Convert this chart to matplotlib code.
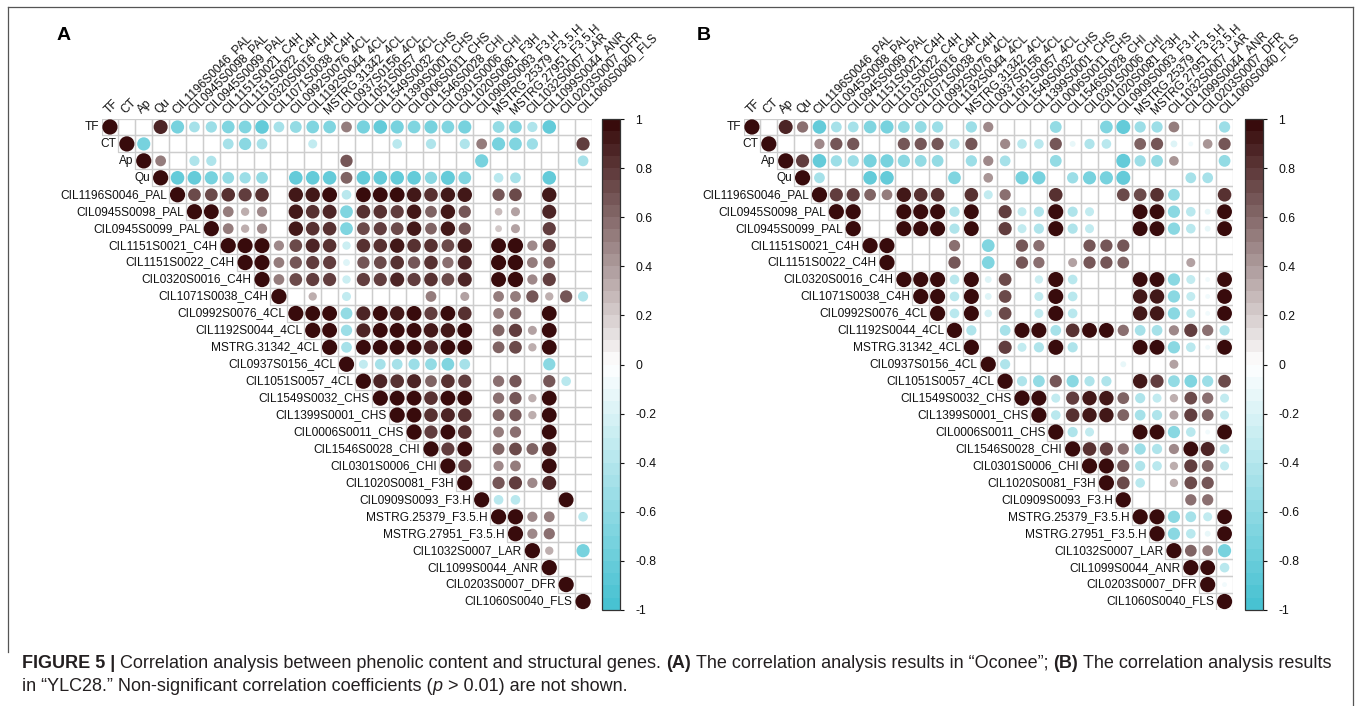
import numpy as np
import matplotlib
matplotlib.use("Agg")
import matplotlib.pyplot as plt
from matplotlib.colors import LinearSegmentedColormap, Normalize
from matplotlib.patches import Circle, Rectangle
from matplotlib.collections import PatchCollection
from matplotlib.lines import Line2D
import matplotlib.cm as cm

plt.rcParams['font.family'] = ['Liberation Sans', 'DejaVu Sans']
plt.rcParams['axes.unicode_minus'] = False

N = None
labels = ["TF", "CT", "Ap", "Qu",
          "CIL1196S0046_PAL", "CIL0945S0098_PAL", "CIL0945S0099_PAL",
          "CIL1151S0021_C4H", "CIL1151S0022_C4H", "CIL0320S0016_C4H", "CIL1071S0038_C4H",
          "CIL0992S0076_4CL", "CIL1192S0044_4CL", "MSTRG.31342_4CL", "CIL0937S0156_4CL",
          "CIL1051S0057_4CL", "CIL1549S0032_CHS", "CIL1399S0001_CHS", "CIL0006S0011_CHS",
          "CIL1546S0028_CHI", "CIL0301S0006_CHI", "CIL1020S0081_F3H", "CIL0909S0093_F3.H",
          "MSTRG.25379_F3.5.H", "MSTRG.27951_F3.5.H", "CIL1032S0007_LAR", "CIL1099S0044_ANR",
          "CIL0203S0007_DFR", "CIL1060S0040_FLS"]

# upper-triangle rows: row i lists columns i..28 (None = not significant)
corr_a = [
    [1, N, N, .85, -.75, -.5, -.55, -.7, -.7, -.8, -.5, -.6, -.7, -.7, .5, -.75, -.8, -.75, -.7, -.75, -.7, -.75, N, -.6, -.7, -.45, -.8, N, N],
    [1, -.75, N, N, N, N, -.5, -.65, -.5, N, N, -.35, N, N, N, N, -.4, N, -.45, N, -.45, .5, -.75, -.7, -.55, N, N, .75],
    [1, .5, N, -.45, -.45, N, N, N, N, N, N, N, .65, N, N, N, N, N, N, N, -.75, N, N, N, N, N, -.5],
    [1, -.8, -.8, -.75, -.6, -.55, -.6, N, -.8, -.8, -.8, .6, -.8, -.8, -.8, -.8, -.65, -.85, -.7, N, -.4, -.5, N, -.8, N, N],
    [1, .7, .7, .8, .75, .8, N, .9, .9, .95, -.4, .95, .95, .95, .9, .8, .9, .9, N, .65, .7, N, .9, N, N],
    [1, .95, .5, .3, .45, N, .9, .8, .85, -.7, .8, .8, .75, .9, .6, .9, .65, N, .25, .35, N, .85, N, N],
    [1, .5, .3, .45, N, .9, .8, .8, -.7, .7, .75, .7, .9, .6, .9, .65, N, .2, .35, N, .75, N, N],
    [1, .98, .98, .45, .7, .85, .8, -.3, .8, .8, .9, .8, .8, .7, .9, N, .95, 1, .45, .75, N, N],
    [1, .98, .5, .65, .75, .75, -.2, .65, .7, .8, .65, .8, .55, .85, N, .98, 1, .5, .6, N, N],
    [1, .5, .7, .75, .75, -.3, .75, .75, .85, .75, .8, .7, .85, N, .95, 1, .45, .75, N, N],
    [1, N, .3, N, -.35, N, N, N, N, .5, N, .35, N, .5, .5, .65, .3, .65, -.45],
    [1, .95, .95, -.6, .85, .95, .9, .95, .75, .95, .8, N, .5, .6, N, .95, N, N],
    [1, .95, -.55, .85, .95, .95, .95, .9, .9, .95, N, .6, .75, .35, .95, N, N],
    [1, -.5, .95, .95, .95, .95, .85, .95, .95, N, .6, .7, .3, .95, N, N],
    [1, -.35, -.5, -.5, -.55, -.6, -.7, -.5, N, N, N, N, -.65, N, N],
    [1, .85, .8, .85, .6, .8, .75, N, .55, .65, N, .65, -.4, N],
    [1, .95, .95, .8, .95, .95, N, .55, .65, .3, .95, N, N],
    [1, .95, .8, .85, .8, N, .6, .65, .3, .95, N, N],
    [1, .75, .95, .8, N, .5, .55, N, .95, N, N],
    [1, .75, .95, N, .6, .7, .6, .9, N, N],
    [1, .75, N, .45, .5, N, .95, N, N],
    [1, N, .65, .75, .45, .85, N, N],
    [1, -.4, -.4, N, N, .95, N],
    [1, 1, .45, .5, N, -.4],
    [1, .45, .55, N, N],
    [1, .3, N, -.75],
    [1, N, N],
    [1, N],
    [1],
]

corr_b = [
    [1, N, .85, .55, -.8, -.5, -.5, -.7, -.75, -.6, -.6, -.55, N, -.55, .45, N, N, N, -.6, N, N, -.7, -.85, -.55, -.55, .5, N, N, -.55],
    [1, N, N, .45, .65, .65, N, N, .65, .65, .65, -.45, .65, N, .45, -.4, -.4, .65, -.15, -.45, -.4, N, .6, .65, -.2, -.1, .4, .65],
    [1, .75, -.8, -.55, -.55, -.75, -.75, -.65, -.6, -.6, N, -.55, .45, -.5, N, N, -.6, N, N, N, -.85, -.55, -.6, .4, N, N, -.6],
    [1, -.5, N, N, -.8, -.8, N, N, N, -.7, N, .4, N, -.75, -.75, N, -.55, -.75, -.75, -.85, N, N, N, -.5, -.5, N],
    [1, .75, .75, .6, .5, .9, .8, .8, N, .8, -.35, .55, N, N, .8, N, N, N, .7, .7, .8, -.6, N, N, .8],
    [1, .98, N, N, .98, .98, .98, -.45, .95, N, .75, -.35, -.45, .98, -.45, -.35, N, N, .95, .95, -.65, -.4, -.15, .95],
    [1, N, N, .98, .98, .98, -.45, .95, N, .75, -.35, -.45, .98, -.45, -.35, N, N, .95, .95, -.65, -.4, -.15, .95],
    [1, .98, N, N, N, .55, N, -.7, N, .65, .55, N, N, .65, .65, .65, N, N, N, N, N, N],
    [1, N, N, N, .65, N, -.7, N, .65, .55, N, .35, .65, .65, .6, N, N, N, .35, N, N],
    [1, .98, .98, -.4, .98, -.2, .7, N, -.3, .98, -.4, N, N, N, .95, .95, -.65, -.35, -.1, .95],
    [1, .98, -.4, .98, -.2, .7, N, -.35, .98, -.4, N, N, N, .9, .9, -.65, -.35, -.1, .95],
    [1, -.4, .98, -.25, .7, N, -.35, .98, -.4, N, N, N, .9, .9, -.65, -.35, -.1, .95],
    [1, -.45, N, -.5, .98, .98, -.5, .8, .95, .95, .55, -.5, -.5, .45, .75, .55, -.45],
    [1, N, .75, -.35, -.45, .98, -.45, N, N, N, .95, .95, -.65, -.4, -.1, .95],
    [1, -.45, N, N, N, N, N, N, -.15, N, N, .35, N, N, N],
    [1, -.45, -.6, .65, -.65, -.45, -.45, N, .9, .75, -.6, -.7, -.55, .7],
    [1, .98, -.35, .75, .9, .9, .6, -.45, -.35, .3, .7, .55, -.35],
    [1, -.4, .8, .9, .9, .6, -.5, -.45, .35, .75, .6, -.35],
    [1, -.45, -.35, N, N, .95, .95, -.65, -.4, -.1, .95],
    [1, .8, .75, .55, -.55, -.45, .45, .95, .85, -.4],
    [1, .98, .65, -.45, -.4, .3, .75, .6, -.35],
    [1, .7, -.4, N, .3, .7, .65, N],
    [1, N, N, N, .55, .55, N],
    [1, .98, -.65, -.5, -.35, .95],
    [1, -.65, -.4, -.15, .95],
    [1, .6, .5, -.75],
    [1, .95, -.4],
    [1, -.1],
    [1],
]

cbar_ticks = [1, 0.8, 0.6, 0.4, 0.2, 0, -0.2, -0.4, -0.6, -0.8, -1]
cbar_ticklabels = ["1", "0.8", "0.6", "0.4", "0.2", "0", "-0.2", "-0.4", "-0.6", "-0.8", "-1"]

W, H = 1357, 706
fig = plt.figure(figsize=(W / 100, H / 100), dpi=100)
fig.patch.set_facecolor('white')

cmap = LinearSegmentedColormap.from_list(
    "corr", [(0.0, "#48C2D2"), (0.5, "#FFFFFF"), (1.0, "#380B0C")]).resampled(40)
norm = Normalize(-1, 1)

n = len(labels)
grid_color = "#CDCDCD"
TXT = 8.6


def fx(px):
    return px / W


def fy(py):
    return 1 - py / H


def draw_panel(left_px, right_px, top_px, bottom_px, rows, letter, letter_x):
    ax = fig.add_axes([fx(left_px), fy(bottom_px), fx(right_px - left_px), (bottom_px - top_px) / H])
    ax.set_xlim(-0.5, n - 0.5)
    ax.set_ylim(n - 0.5, -0.5)
    ax.axis('off')
    # grid
    rects = []
    for i in range(n):
        for j in range(i, n):
            rects.append(Rectangle((j - 0.5, i - 0.5), 1, 1))
    ax.add_collection(PatchCollection(rects, facecolor='none', edgecolor=grid_color,
                                      linewidth=0.9, zorder=1))
    # circles
    circs, cols = [], []
    for i, row in enumerate(rows):
        for k, v in enumerate(row):
            j = i + k
            if v is None or j >= n:
                continue
            circs.append(Circle((j, i), 0.45 * np.sqrt(abs(v))))
            cols.append(cmap(norm(v)))
    ax.add_collection(PatchCollection(circs, facecolor=cols, edgecolor='none', zorder=2))
    # labels
    for i, lab in enumerate(labels):
        ax.text(i - 0.62, i, lab, ha='right', va='center', fontsize=TXT, color='#111111',
                clip_on=False)
        ax.text(i - 0.1, -0.75, lab, ha='left', va='baseline', rotation=45,
                rotation_mode='anchor', fontsize=TXT, color='#111111', clip_on=False)
    fig.text(fx(letter_x), fy(40), letter, fontsize=14, fontweight='bold',
             ha='left', va='baseline', color='black')
    return ax


draw_panel(101.5, 591.5, 118.5, 610, corr_a, "A", 57)
draw_panel(743.5, 1233, 118.5, 610, corr_b, "B", 697)


def draw_cbar(left_px, right_px):
    cax = fig.add_axes([fx(left_px), fy(610), fx(right_px - left_px), (610 - 119) / H])
    sm = cm.ScalarMappable(norm=norm, cmap=cmap)
    cb = fig.colorbar(sm, cax=cax, ticks=cbar_ticks)
    cb.ax.set_yticklabels(cbar_ticklabels)
    cb.outline.set_edgecolor('#333333')
    cb.outline.set_linewidth(0.9)
    cb.ax.tick_params(length=3, width=0.8, pad=8, labelsize=8.8, colors='#111111')


draw_cbar(601.7, 620)
draw_cbar(1245, 1263.3)

# frame
fr = dict(color='#555555', lw=0.9)
fig.add_artist(Line2D([fx(8), fx(1353)], [fy(7), fy(7)], **fr))
fig.add_artist(Line2D([fx(8), fx(8)], [fy(7), fy(652)], **fr))
fig.add_artist(Line2D([fx(1353), fx(1353)], [fy(7), fy(706)], **fr))

# caption
renderer = fig.canvas.get_renderer()
cap_color = '#231F20'


def text_width(s, size, **kw):
    t = fig.text(0, 0, s, fontsize=size, **kw)
    w = t.get_window_extent(renderer=renderer).width
    t.remove()
    return w


def rich_line(x_px, y_px, parts, size, draw=True):
    sp = text_width("x x", size) - text_width("xx", size)
    x = x_px
    for s, kw in parts:
        if s == " ":
            x += sp
            continue
        if draw:
            t = fig.text(fx(x), fy(y_px), s, fontsize=size, ha='left', va='baseline',
                         color=cap_color, **kw)
            w = t.get_window_extent(renderer=renderer).width
        else:
            w = text_width(s, size, **kw)
        x += w
    return x - x_px


B = dict(fontweight='bold')
R = dict()
I = dict(fontstyle='italic')
line1 = [("FIGURE 5 |", B), (" ", R),
         ("Correlation analysis between phenolic content and structural genes.", R), (" ", R),
         ("(A)", B), (" ", R),
         ("The correlation analysis results in \u201cOconee\u201d;", R), (" ", R),
         ("(B)", B), (" ", R),
         ("The correlation analysis results", R)]
line2 = [("in \u201cYLC28.\u201d Non-significant correlation coefficients (", R),
         ("p", I), (" ", R), ("> 0.01) are not shown.", R)]

w0 = rich_line(22, 668, line1, 10, draw=False)
cap_size = 10 * (1332 - 22) / w0
rich_line(22, 668, line1, cap_size)
rich_line(22, 691, line2, cap_size)

fig.savefig("out.png", dpi=100, facecolor='white')
